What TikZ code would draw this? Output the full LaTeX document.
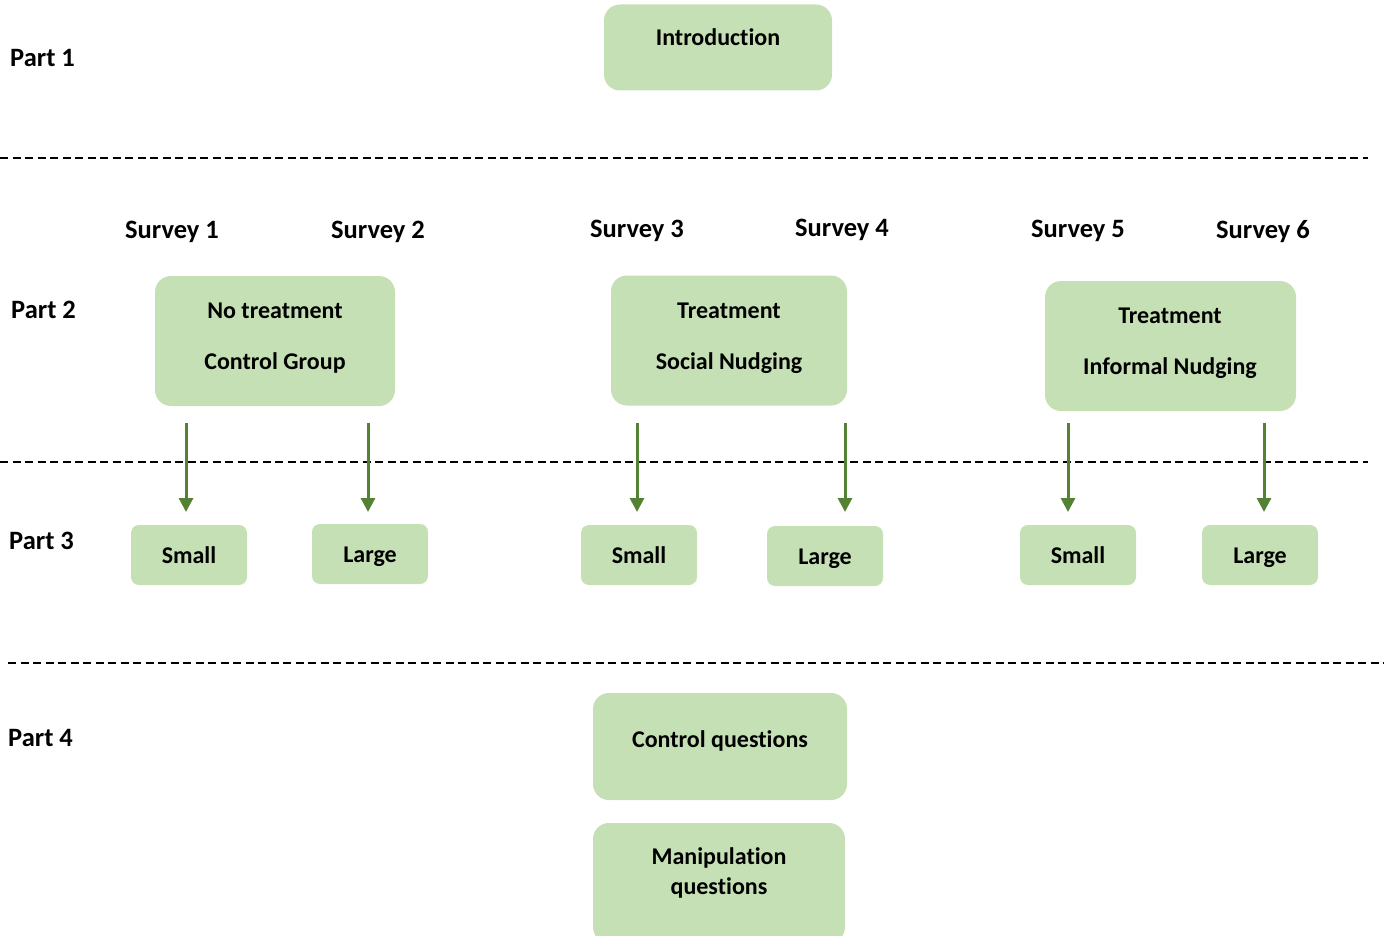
\documentclass[tikz,border=0pt]{standalone}
\usepackage{fontspec}
\setmainfont[Ligatures={NoCommon}]{Carlito}
\usetikzlibrary{arrows.meta}
\definecolor{boxfill}{HTML}{C5E0B4}
\definecolor{arrowgreen}{HTML}{548235}
\begin{document}
\begin{tikzpicture}[x=1pt,y=-1pt,
  every node/.style={font=\fontsize{24}{29}\selectfont\bfseries, inner sep=0pt, text height=18pt, text depth=2pt},
  lbl/.style={font=\fontsize{26.5}{30}\selectfont\bfseries, text height=20.5pt, text depth=1.5pt},
  bigbox/.style={fill=boxfill, draw=none, rounded corners=16pt},
  smallbox/.style={fill=boxfill, draw=none, rounded corners=8pt, minimum width=116pt, minimum height=60pt},
  sepline/.style={dashed, dash pattern=on 8pt off 4.5pt, line width=1.6pt, black},
  flow/.style={-{Triangle[width=14pt,length=14pt]}, line width=3pt, arrowgreen}
]
\useasboundingbox (0,0) rectangle (1384,936);

% part labels
\node[lbl, anchor=west] (p1) at (10,57) {Part 1};
\node[lbl, anchor=west] (p2) at (11,309) {Part 2};
\node[lbl, anchor=west] (p3) at (9,540) {Part 3};
\node[lbl, anchor=west] (p4) at (8,737) {Part 4};

% separators
\coordinate (l1a) at (0,158); \coordinate (l1b) at (1368,158);
\coordinate (l2a) at (0,462); \coordinate (l2b) at (1368,462);
\coordinate (l3a) at (8,663); \coordinate (l3b) at (1384,663);
\draw[sepline] (l1a) -- (l1b);
\draw[sepline] (l2a) -- (l2b);
\draw[sepline] (l3a) -- (l3b);

% part 1
\node[bigbox, minimum width=228pt, minimum height=86pt] (intro) at (718,47.5) {};
\node (introT) at (718,38) {Introduction};

% survey labels
\node[lbl] (s1) at (172,229) {Survey 1};
\node[lbl] (s2) at (378,229) {Survey 2};
\node[lbl] (s3) at (637,228) {Survey 3};
\node[lbl] (s4) at (842,227) {Survey 4};
\node[lbl] (s5) at (1078,228) {Survey 5};
\node[lbl] (s6) at (1263,229) {Survey 6};

% part 2 boxes
\node[bigbox, minimum width=240pt, minimum height=130pt] (ga) at (275,341) {};
\node (gaT1) at (275,310) {No treatment};
\node (gaT2) at (275,361) {Control Group};
\node[bigbox, minimum width=236pt, minimum height=130pt] (gb) at (729,340.5) {};
\node (gbT1) at (729,310) {Treatment};
\node (gbT2) at (729,361) {Social Nudging};
\node[bigbox, minimum width=251pt, minimum height=130pt] (gc) at (1170.5,346) {};
\node (gcT1) at (1170,315) {Treatment};
\node (gcT2) at (1170,366) {Informal Nudging};

% part 3 boxes
\node[smallbox] (sa) at (189,555) {Small};
\node[smallbox] (la) at (370,554) {Large};
\node[smallbox] (sb) at (639,555) {Small};
\node[smallbox] (lb) at (825,556) {Large};
\node[smallbox] (sc) at (1078,555) {Small};
\node[smallbox] (lc) at (1260,555) {Large};

% arrows
\coordinate (a1s) at (186,423); \coordinate (a1e) at (186,512);
\coordinate (a2s) at (368,423); \coordinate (a2e) at (368,512);
\coordinate (a3s) at (637,423); \coordinate (a3e) at (637,512);
\coordinate (a4s) at (845,423); \coordinate (a4e) at (845,512);
\coordinate (a5s) at (1068,423); \coordinate (a5e) at (1068,512);
\coordinate (a6s) at (1264,423); \coordinate (a6e) at (1264,512);
\draw[flow] (a1s) -- (a1e);
\draw[flow] (a2s) -- (a2e);
\draw[flow] (a3s) -- (a3e);
\draw[flow] (a4s) -- (a4e);
\draw[flow] (a5s) -- (a5e);
\draw[flow] (a6s) -- (a6e);

% part 4
\node[bigbox, minimum width=254pt, minimum height=107pt] (cq) at (720,746.5) {};
\node (cqT) at (720,739) {Control questions};
\node[bigbox, minimum width=252pt, minimum height=120pt] (mq) at (719,883) {};
\node (mqT1) at (719,856) {Manipulation};
\node (mqT2) at (719,886) {questions};
\end{tikzpicture}
\end{document}
